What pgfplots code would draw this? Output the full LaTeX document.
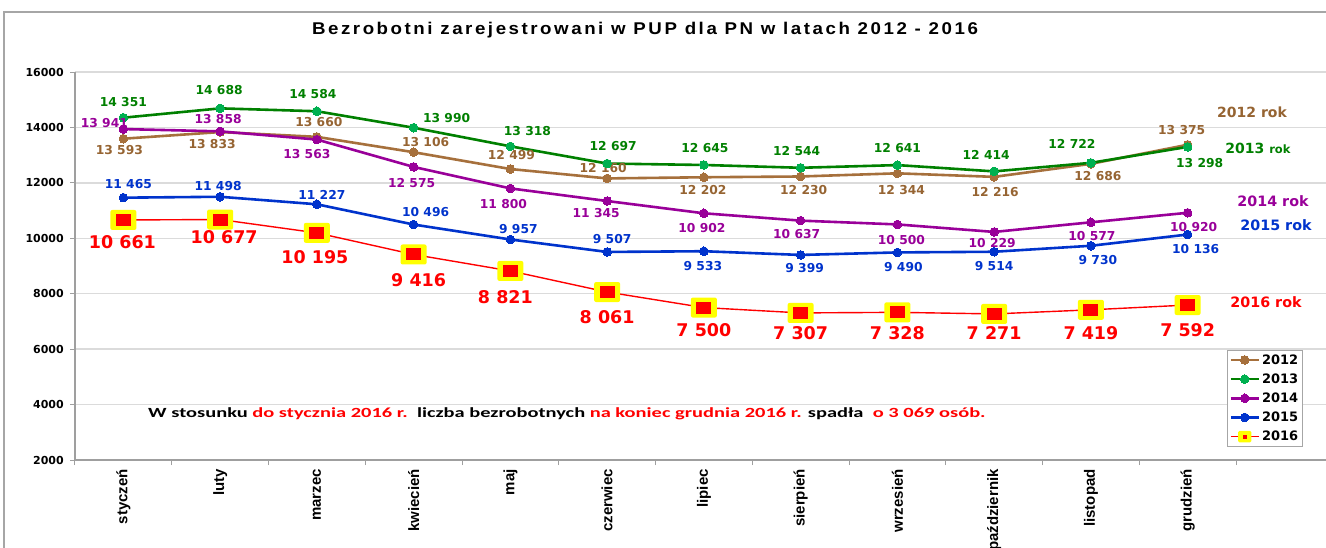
\documentclass[border=0pt]{standalone}
\usepackage{pgfplots}
\usepackage{pgfplotstable}
\pgfplotsset{compat=1.18}
\usepackage{fontspec}
\setmainfont{DejaVu Sans}
\newfontfamily\dv{DejaVu Sans}
\newfontfamily\ar{Liberation Sans}
\newfontfamily\artitle[LetterSpace=15, FakeStretch=1.1]{Liberation Sans}
\newfontfamily\carl[FakeStretch=1.46]{Carlito}
\newcommand\dvb{\dv\bfseries}

\definecolor{cBrown}{RGB}{166,112,60}
\definecolor{cBrownT}{RGB}{150,100,50}
\definecolor{cGreen}{RGB}{0,128,0}
\definecolor{cGreenM}{RGB}{0,176,80}
\definecolor{cPurple}{RGB}{153,0,153}
\definecolor{cBlue}{RGB}{0,51,204}
\definecolor{cRed}{RGB}{255,0,0}
\definecolor{cYellow}{RGB}{255,255,0}

\pgfdeclareplotmark{hl}{%
  \pgfsetcornersarced{\pgfpoint{2pt}{2pt}}%
  \pgfpathrectangle{\pgfpoint{-13pt}{-10pt}}{\pgfpoint{26pt}{20pt}}%
  \pgfsetfillcolor{cYellow}\pgfusepath{fill}%
  \pgfsetcornersarced{\pgfpointorigin}%
  \pgfpathrectangle{\pgfpoint{-7.5pt}{-6pt}}{\pgfpoint{15pt}{12pt}}%
  \pgfsetfillcolor{cRed}\pgfusepath{fill}}

\pgfplotstableread{
x y dx dy
0 13593 -4 -11
1 13833 -8 -12
2 13660 2 15
3 13106 12 10
4 12499 1 14
5 12160 -4 10
6 12202 -1 -13
7 12230 3 -14
8 12344 4 -17
9 12216 1 -15
10 12686 7 -12
11 13375 -6 15
}\tabA
\pgfplotstableread{
x y dx dy
0 14351 0 16
1 14688 -1 18
2 14584 -4 17
3 13990 33 10
4 13318 17 15
5 12697 6 18
6 12645 1 17
7 12544 -4 17
8 12641 0 17
9 12414 -8 16
10 12722 -19 19
11 13298 12 -16
}\tabB
\pgfplotstableread{
x y dx dy
0 13941 -19 6
1 13858 -2 12
2 13563 -10 -14
3 12575 -2 -16
4 11800 -7 -16
5 11345 -11 -12
6 10902 -2 -15
7 10637 -4 -13
8 10500 4 -16
9 10229 -2 -11
10 10577 1 -14
11 10920 6 -14
}\tabC
\pgfplotstableread{
x y dx dy
0 11465 5 14
1 11498 -2 11
2 11227 5 9
3 10496 12 13
4 9957 8 10
5 9507 5 13
6 9533 -1 -15
7 9399 4 -13
8 9490 6 -15
9 9514 0 -14
10 9730 7 -14
11 10136 8 -15
}\tabD
\pgfplotstableread{
x y dx dy
0 10661 -1 -22
1 10677 4 -18
2 10195 -2 -24
3 9416 5 -26
4 8821 -5 -26
5 8061 0 -25
6 7500 0 -23
7 7307 0 -20
8 7328 0 -21
9 7271 0 -19
10 7419 0 -23
11 7592 0 -25
}\tabE

\begin{document}
\begin{tikzpicture}
\useasboundingbox (0,0) rectangle (1326pt,547pt);
\clip (0,0) rectangle (1326pt,547pt);
\fill[white] (0,0) rectangle (1326pt,547pt);
\draw[gray!70, line width=1.5pt] (4pt,-10pt) rectangle (1340pt,535pt);
\node[font=\artitle\bfseries\fontsize{17}{19}\selectfont] at (645pt,517pt) {Bezrobotni zarejestrowani w PUP dla PN w latach 2012 - 2016};

\begin{axis}[
  at={(75pt,87pt)}, anchor=south west,
  scale only axis, width=1251pt, height=388pt,
  xmin=-0.5, xmax=12.43, ymin=2000, ymax=16000,
  clip=false,
  axis x line=bottom, axis y line=left,
  axis line style={-, draw=gray!75, line width=1.5pt},
  /pgf/number format/assume math mode=true,
  scaled y ticks=false,
  ytick={2000,4000,...,16000},
  yticklabel style={font=\dvb\fontsize{11}{13}\selectfont, /pgf/number format/1000 sep={}, inner sep=0pt, xshift=-6pt},
  tick align=outside, major tick length=5pt,
  tick style={draw=gray!75, line width=1pt},
  ymajorgrids, grid style={draw=gray!28, line width=1.5pt},
  xtick={-0.5,0.5,...,12.5}, xticklabels={},
  extra x ticks={0,1,...,11},
  extra x tick labels={styczeń,luty,marzec,kwiecień,maj,czerwiec,lipiec,sierpień,wrzesień,październik,listopad,grudzień},
  extra x tick style={grid=none, major tick length=0pt, xticklabel shift=9pt,
     xticklabel style={rotate=90, anchor=east, inner sep=0pt, font=\ar\bfseries\fontsize{15}{17}\selectfont}},
  visualization depends on={\thisrow{dx}\as\dx},
  visualization depends on={\thisrow{dy}\as\dy},
  nodes near coords={\pgfmathprintnumber[fixed,precision=0,1000 sep={\ },assume math mode=true]{\pgfplotspointmeta}},
  every node near coord/.append style={anchor=center, inner sep=0pt, xshift=\dx pt, yshift=\dy pt, font=\dvb\fontsize{12.3}{14}\selectfont},
  legend image code/.code={\draw[mark repeat=2,mark phase=2,#1] plot coordinates {(0pt,0pt) (14pt,0pt) (28pt,0pt)};},
  legend style={at={(0.9209,0.2835)}, anchor=north west, draw=gray!70, line width=0.8pt, fill=white,
     font=\dvb\fontsize{13}{15}\selectfont, inner xsep=2pt, inner ysep=2pt, row sep=4pt,
     nodes={inner sep=2pt}, cells={anchor=west}},
]
\addplot[cBrown, line width=2.6pt, mark=*, mark size=4.3pt, mark options={fill=cBrown, draw=cBrown, line width=0pt},
  every node near coord/.append style={text=cBrownT}] table[x=x,y=y] {\tabA};
\addplot[cGreen, line width=2.6pt, mark=*, mark size=4.3pt, mark options={fill=cGreenM, draw=cGreenM, line width=0pt},
  every node near coord/.append style={text=cGreen}] table[x=x,y=y] {\tabB};
\addplot[cPurple, line width=2.6pt, mark=*, mark size=4.3pt, mark options={fill=cPurple, draw=cPurple, line width=0pt},
  every node near coord/.append style={text=cPurple}] table[x=x,y=y] {\tabC};
\addplot[cBlue, line width=2.6pt, mark=*, mark size=4.3pt, mark options={fill=cBlue, draw=cBlue, line width=0pt},
  every node near coord/.append style={text=cBlue}] table[x=x,y=y] {\tabD};
\addplot[cRed, line width=1.4pt, mark=hl,
  every node near coord/.append style={text=cRed, font=\dvb\fontsize{17.5}{20}\selectfont},
  legend image code/.code={\draw[cRed, line width=1.2pt] (0pt,0pt) -- (28pt,0pt);
     \fill[cYellow, rounded corners=1pt] (8pt,-5pt) rectangle (20pt,5pt);
     \fill[cRed] (12.7pt,-1.3pt) rectangle (15.3pt,1.3pt);}] table[x=x,y=y] {\tabE};
\legend{2012,2013,2014,2015,2016}
\end{axis}

\node[font=\dvb\fontsize{14}{16}\selectfont, text=cBrownT] at (1252pt,435pt) {2012 rok};
\node[font=\dvb\fontsize{14}{16}\selectfont, text=cGreen] at (1258pt,399pt) {2013 {\fontsize{11.5}{13}\selectfont rok}};
\node[font=\dvb\fontsize{14.3}{16}\selectfont, text=cPurple] at (1273pt,346pt) {2014 rok};
\node[font=\dvb\fontsize{14.3}{16}\selectfont, text=cBlue] at (1276pt,322pt) {2015 rok};
\node[font=\dvb\fontsize{14.3}{16}\selectfont, text=cRed] at (1266pt,245pt) {2016 rok};

\node[anchor=west, inner sep=0pt, font=\carl\bfseries\fontsize{14}{16}\selectfont] at (148pt,133pt)
  {W stosunku \textcolor{cRed}{do stycznia 2016 r.}\ \ liczba bezrobotnych \textcolor{cRed}{na koniec grudnia 2016 r.} spadła\ \ \textcolor{cRed}{o 3 069 osób.}};
\end{tikzpicture}
\end{document}
